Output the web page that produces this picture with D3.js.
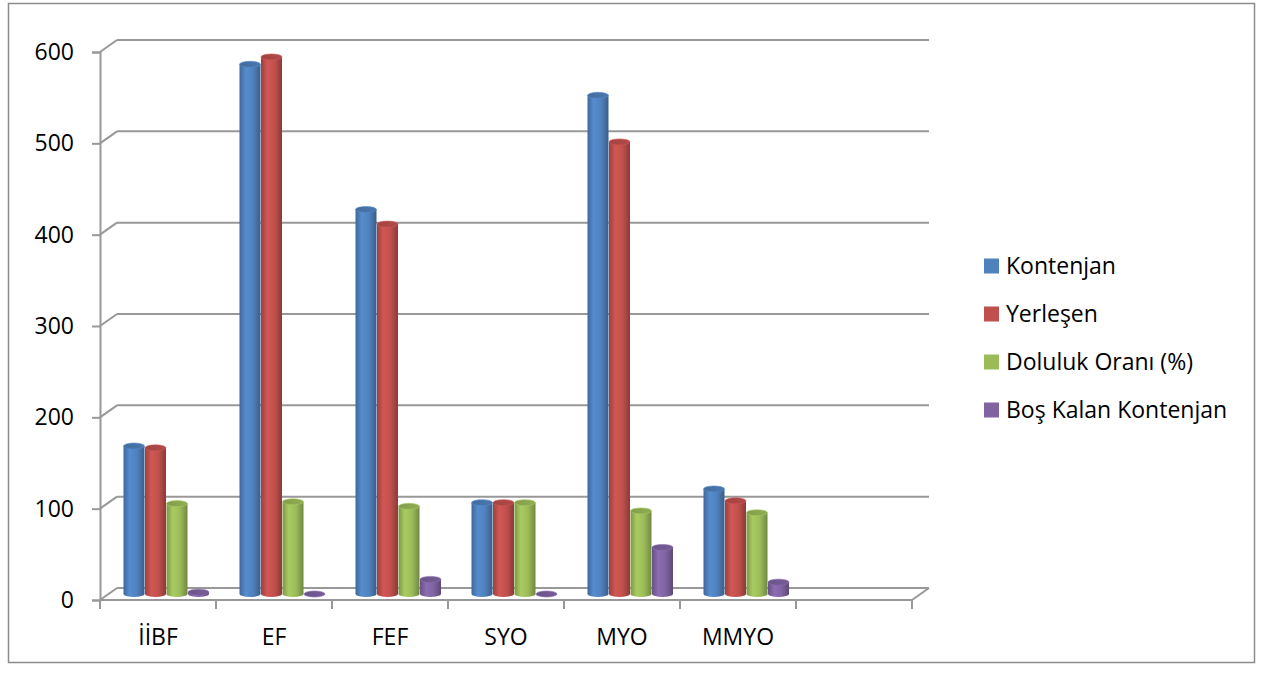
<!DOCTYPE html>
<html>
<head>
<meta charset="utf-8">
<script src="https://cdn.jsdelivr.net/npm/d3@7"></script>
<style>
  body { margin: 0; background: #fff; }
  text { font-family: "Open Sans", "Noto Sans", sans-serif; font-weight: 400; fill: #000; }
</style>
</head>
<body>
<script>
// data
var categories = ["İİBF", "EF", "FEF", "SYO", "MYO", "MMYO", ""];
var seriesNames = ["Kontenjan", "Yerleşen", "Doluluk Oranı (%)", "Boş Kalan Kontenjan"];
var kontenjan = [162, 580, 421, 100, 546, 115];
var yerlesen = [160, 588, 405, 100, 495, 102];
var doluluk = [99, 101, 96, 100, 91, 89];
var bosKalan = [2, 0, 16, 0, 51, 13];
var yTicks = [0, 100, 200, 300, 400, 500, 600];
var colors = ["#4f81bd", "#c0504d", "#9bbb59", "#8064a2"];

var series = [kontenjan, yerlesen, doluluk, bosKalan];

var W = 1263, H = 675;
// 3d depth offset of the back wall
var dx = 17, dy = -12;

var svg = d3.select("body").append("svg")
    .attr("width", W)
    .attr("height", H);

var defs = svg.append("defs");

// outer frame
svg.append("rect")
    .attr("x", 8.5).attr("y", 3.5)
    .attr("width", 1246).attr("height", 659)
    .attr("fill", "none")
    .attr("stroke", "#8c8c8c")
    .attr("stroke-width", 1.5);

var y = d3.scaleLinear().domain([0, 600]).range([600, 52]);
var x = d3.scaleBand().domain(categories).range([100, 912]);
var groupW = 86;
var x1 = d3.scaleBand().domain(d3.range(seriesNames.length)).range([0, groupW]);

var axisColor = "#989898";

// back wall grid lines with the left side diagonals
var grid = svg.append("g");
yTicks.forEach(function(t) {
  grid.append("line")
    .attr("x1", 100 + dx).attr("x2", 912 + dx)
    .attr("y1", y(t) + dy).attr("y2", y(t) + dy)
    .attr("stroke", axisColor).attr("stroke-width", 2);
  grid.append("line")
    .attr("x1", 100).attr("x2", 100 + dx)
    .attr("y1", y(t)).attr("y2", y(t) + dy)
    .attr("stroke", axisColor).attr("stroke-width", 2);
});

// floor front edge and right diagonal
svg.append("line")
  .attr("x1", 100).attr("x2", 912).attr("y1", y(0)).attr("y2", y(0))
  .attr("stroke", axisColor).attr("stroke-width", 2);
svg.append("line")
  .attr("x1", 912).attr("x2", 912 + dx).attr("y1", y(0)).attr("y2", y(0) + dy)
  .attr("stroke", axisColor).attr("stroke-width", 2);

// y axis
var yAxis = svg.append("g")
    .attr("transform", "translate(100,0)")
    .call(d3.axisLeft(y).tickValues(yTicks).tickSize(8).tickPadding(18));
yAxis.select(".domain").attr("stroke", axisColor).attr("stroke-width", 2);
yAxis.selectAll(".tick line").attr("stroke", axisColor).attr("stroke-width", 2);
yAxis.selectAll(".tick text").style("font-size", "23px").attr("fill", "#000");

// x axis ticks at band boundaries
var xt = svg.append("g");
var bounds = categories.map(function(c) { return x(c); }).concat([912]);
bounds.forEach(function(b) {
  xt.append("line")
    .attr("x1", b).attr("x2", b).attr("y1", y(0)).attr("y2", y(0) + 9)
    .attr("stroke", axisColor).attr("stroke-width", 2);
});
xt.selectAll("text")
  .data(categories)
  .enter().append("text")
    .attr("x", function(c) { return x(c) + x.bandwidth() / 2; })
    .attr("y", 645)
    .attr("text-anchor", "middle")
    .style("font-size", "23px")
    .text(function(c) { return c; });

// cylinder gradients
colors.forEach(function(c, i) {
  var base = d3.color(c);
  var g = defs.append("linearGradient")
      .attr("id", "cyl" + i)
      .attr("x1", "0").attr("x2", "1").attr("y1", "0").attr("y2", "0");
  g.append("stop").attr("offset", "0").attr("stop-color", base.darker(0.6));
  g.append("stop").attr("offset", "0.3").attr("stop-color", base.brighter(0.25));
  g.append("stop").attr("offset", "0.65").attr("stop-color", base);
  g.append("stop").attr("offset", "1").attr("stop-color", base.darker(0.9));
  var t = defs.append("linearGradient")
      .attr("id", "top" + i)
      .attr("x1", "0").attr("x2", "1").attr("y1", "0").attr("y2", "0");
  t.append("stop").attr("offset", "0").attr("stop-color", base.darker(0.5));
  t.append("stop").attr("offset", "1").attr("stop-color", base.darker(0.2));
});

// bars, drawn at mid depth
var ry = 3;
var bars = svg.append("g");
categories.slice(0, 6).forEach(function(cat, ci) {
  var gx = x(cat) + x.bandwidth() / 2 - groupW / 2 + dx / 2;
  series.forEach(function(vals, si) {
    var v = vals[ci];
    var bx = gx + x1(si);
    var bw = x1.bandwidth() - 0.5;
    var base = y(0) + dy / 2;
    var top = y(v) + dy / 2;
    var g = bars.append("g");
    if (v > 0) {
      g.append("ellipse")
        .attr("cx", bx + bw / 2).attr("cy", base)
        .attr("rx", bw / 2).attr("ry", ry)
        .attr("fill", "url(#cyl" + si + ")");
      g.append("rect")
        .attr("x", bx).attr("y", top)
        .attr("width", bw).attr("height", base - top)
        .attr("fill", "url(#cyl" + si + ")");
    }
    g.append("ellipse")
      .attr("cx", bx + bw / 2).attr("cy", top)
      .attr("rx", bw / 2).attr("ry", ry)
      .attr("fill", "url(#top" + si + ")")
      .attr("stroke", d3.color(colors[si]).brighter(0.2))
      .attr("stroke-width", 0.6);
  });
});

// legend
var legend = svg.append("g")
  .selectAll("g")
  .data(seriesNames)
  .enter().append("g")
    .attr("transform", function(d, i) { return "translate(984," + (266 + i * 48) + ")"; });
legend.append("rect")
  .attr("x", 0).attr("y", -7.5)
  .attr("width", 15).attr("height", 15)
  .attr("fill", function(d, i) { return colors[i]; });
legend.append("text")
  .attr("x", 22).attr("y", 0)
  .attr("dy", "0.35em")
  .style("font-size", "23px")
  .text(function(d) { return d; });
</script>
</body>
</html>
